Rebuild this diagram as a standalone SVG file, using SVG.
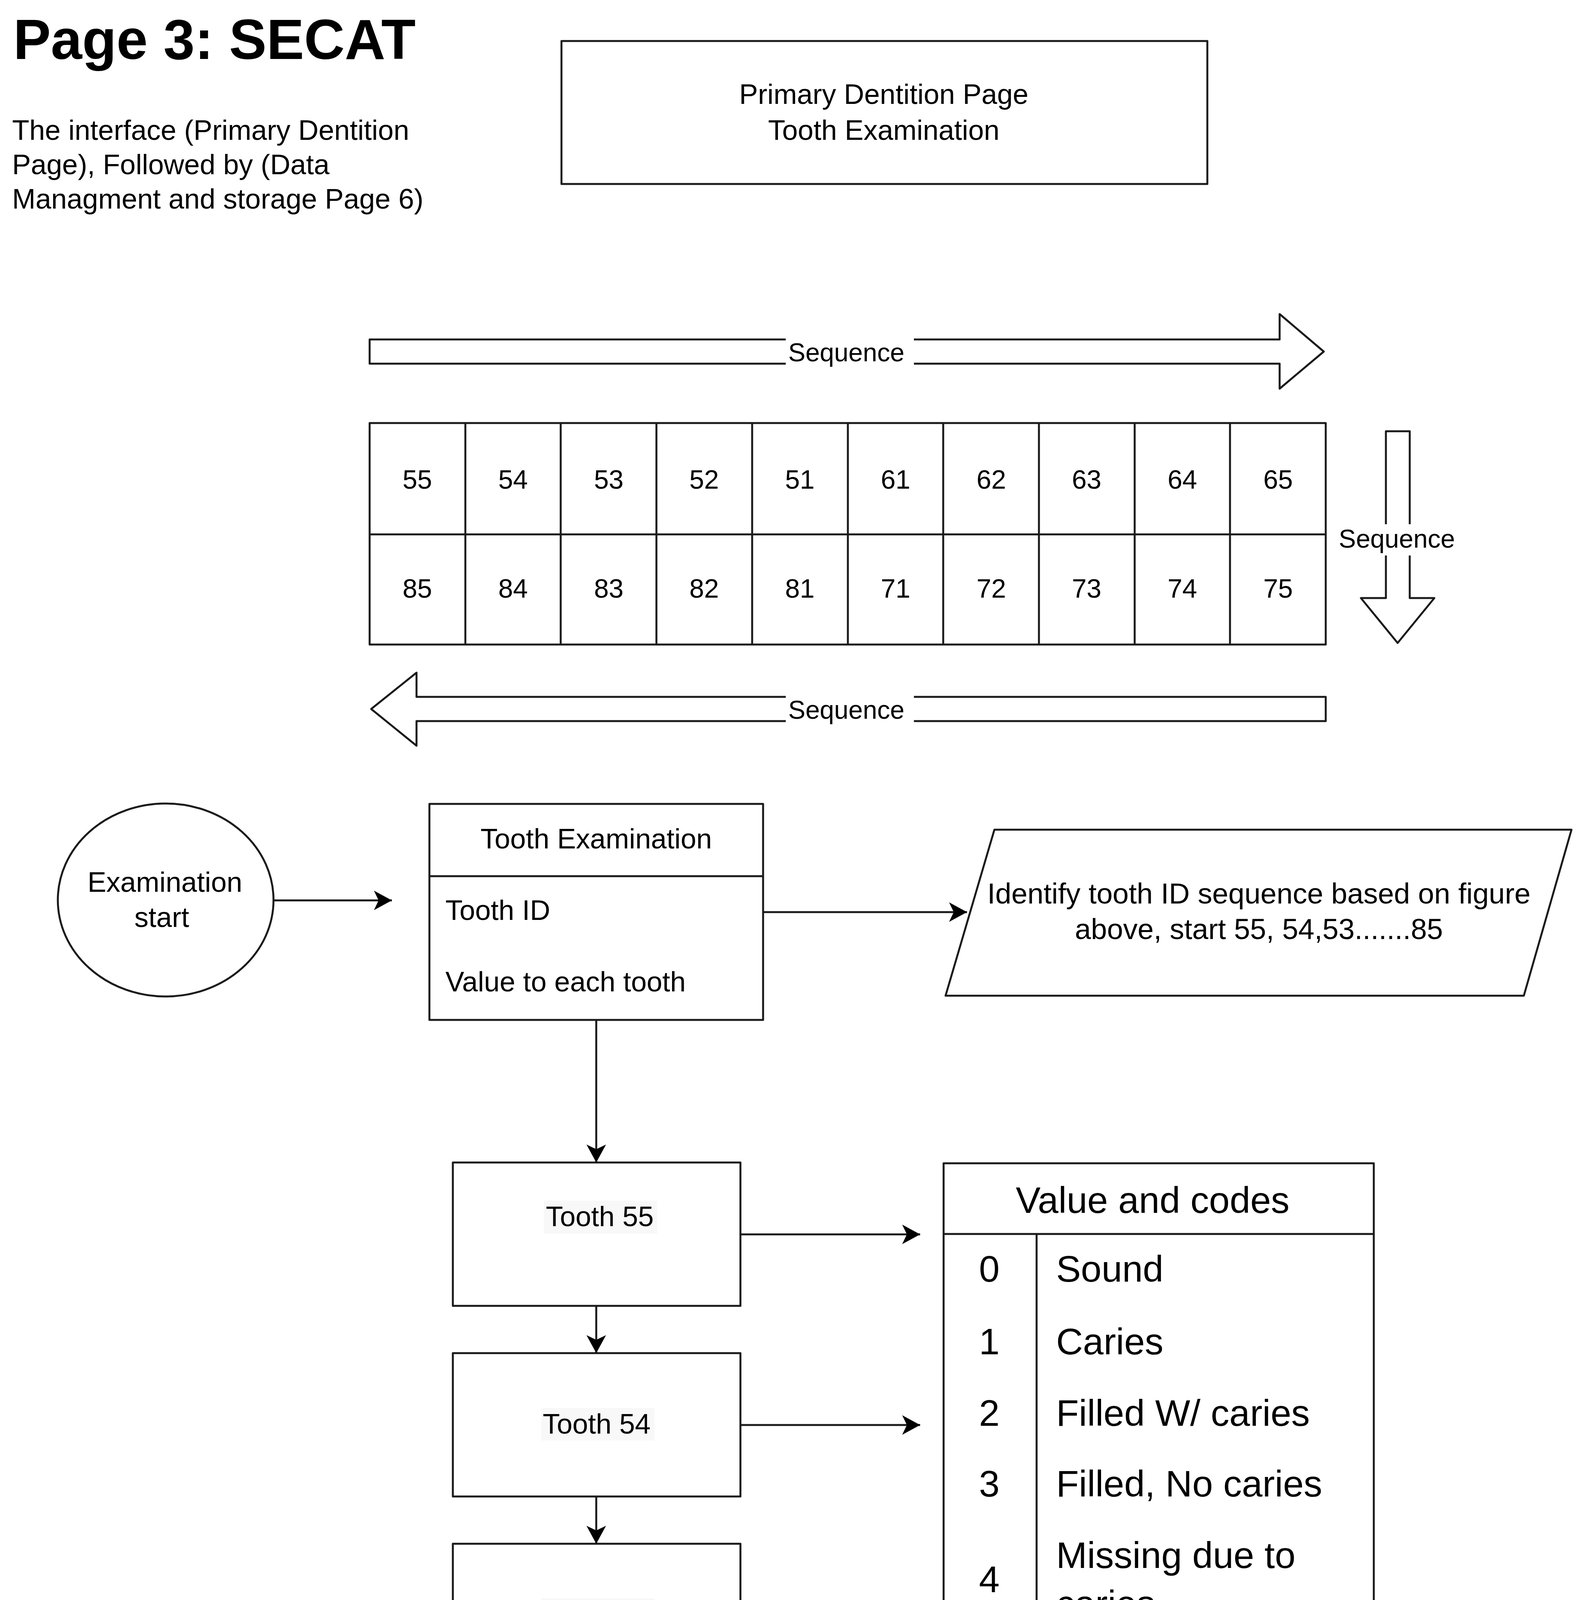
<svg xmlns="http://www.w3.org/2000/svg" width="4054" height="5883" viewBox="0 0 4054 5883">
<style>
text{font-family:"Liberation Sans",Arial,sans-serif;fill:#000}
.sh{fill:#fff;stroke:#1a1a1a;stroke-width:5;stroke-linejoin:round}
.ln{fill:none;stroke:#1a1a1a;stroke-width:5}
.t72{font-size:72px}
.t68{font-size:68px}
.t66{font-size:66px}
.t95{font-size:95px}
.c{text-anchor:middle}
.lbg{fill:#f8f8f8}
</style>
<defs>
<marker id="ah" markerUnits="userSpaceOnUse" markerWidth="60" markerHeight="60" refX="46" refY="25" orient="auto">
<path d="M0,0 L46,25 L0,50 L12,25 Z" fill="#000"/>
</marker>
</defs>
<rect width="4054" height="5883" fill="#fff"/>

<g id="title">
<text x="34" y="151" style="font-size:144px;font-weight:bold">Page 3: SECAT</text>
<text class="t72" x="31" y="358">The interface (Primary Dentition</text>
<text class="t72" x="31" y="446">Page), Followed by (Data</text>
<text class="t72" x="31" y="534">Managment and storage Page 6)</text>
</g>

<g id="header-box">
<rect class="sh" x="1437" y="105" width="1653" height="366"/>
<text class="t72 c" x="2262" y="266">Primary Dentition Page</text>
<text class="t72 c" x="2262" y="358">Tooth Examination</text>
</g>

<g id="seq-top">
<polygon class="sh" points="946,869 3275,869 3275,804 3388,900 3275,995 3275,931 946,931"/>
<rect x="2011" y="860" width="328" height="80" fill="#fff"/>
<text class="t66 c" x="2166" y="925">Sequence</text>
</g>

<g id="tooth-grid">
<rect class="sh" x="946" y="1083" width="2447" height="567"/>
<path class="ln" d="M946,1368 H3393 M1191,1083 V1650 M1435,1083 V1650 M1680,1083 V1650 M1925,1083 V1650 M2170,1083 V1650 M2414,1083 V1650 M2659,1083 V1650 M2904,1083 V1650 M3148,1083 V1650"/>
<g class="t68 c">
<text x="1068" y="1251">55</text><text x="1313" y="1251">54</text><text x="1558" y="1251">53</text><text x="1802" y="1251">52</text><text x="2047" y="1251">51</text><text x="2292" y="1251">61</text><text x="2537" y="1251">62</text><text x="2781" y="1251">63</text><text x="3026" y="1251">64</text><text x="3271" y="1251">65</text>
<text x="1068" y="1530">85</text><text x="1313" y="1530">84</text><text x="1558" y="1530">83</text><text x="1802" y="1530">82</text><text x="2047" y="1530">81</text><text x="2292" y="1530">71</text><text x="2537" y="1530">72</text><text x="2781" y="1530">73</text><text x="3026" y="1530">74</text><text x="3271" y="1530">75</text>
</g>
</g>

<g id="seq-right">
<polygon class="sh" points="3547,1104 3608,1104 3608,1531 3671,1531 3577,1646 3483,1531 3547,1531"/>
<rect x="3424" y="1342" width="304" height="80" fill="#fff"/>
<text class="t66 c" x="3575" y="1402">Sequence</text>
</g>

<g id="seq-bottom">
<polygon class="sh" points="3393,1784 1066,1784 1066,1722 950,1815 1066,1909 1066,1846 3393,1846"/>
<rect x="2011" y="1775" width="328" height="80" fill="#fff"/>
<text class="t66 c" x="2166" y="1840">Sequence</text>
</g>

<g id="exam-start">
<ellipse class="sh" cx="424" cy="2304" rx="276" ry="247"/>
<text class="t72 c" x="422" y="2283">Examination</text>
<text class="t72 c" x="414" y="2373">start</text>
</g>

<g id="tooth-exam">
<rect class="sh" x="1099" y="2058" width="854" height="553"/>
<path class="ln" d="M1099,2243 H1953"/>
<text class="t72 c" x="1526" y="2172">Tooth Examination</text>
<text class="t72" x="1140" y="2355">Tooth ID</text>
<text class="t72" x="1140" y="2538">Value to each tooth</text>
</g>

<g id="identify">
<polygon class="sh" points="2545,2124 4022,2124 3900,2549 2420,2549"/>
<text class="c" style="font-size:74px" x="3222" y="2313">Identify tooth ID sequence based on figure</text>
<text class="c" style="font-size:74px" x="3222" y="2404">above, start 55, 54,53.......85</text>
</g>

<g id="tooth55">
<rect class="sh" x="1159" y="2976" width="736" height="367"/>
<rect class="lbg" x="1392" y="3074" width="290" height="84"/>
<text class="t72 c" x="1535" y="3139">Tooth 55</text>
</g>
<g id="tooth54">
<rect class="sh" x="1159" y="3464" width="736" height="367"/>
<rect class="lbg" x="1385" y="3604" width="290" height="84"/>
<text class="t72 c" x="1527" y="3670">Tooth 54</text>
</g>
<g id="tooth53">
<rect class="sh" x="1159" y="3952" width="736" height="369"/>
<rect class="lbg" x="1385" y="4092" width="290" height="84"/>
<text class="t72 c" x="1527" y="4158">Tooth 53</text>
</g>
<g id="tooth85">
<rect class="sh" x="1159" y="4870" width="736" height="369"/>
<rect class="lbg" x="1374" y="5059" width="304" height="86"/>
<text class="t72 c" x="1530" y="5125">Tooth 85</text>
</g>

<g id="codes">
<rect class="sh" x="2415" y="2978" width="1101" height="1581"/>
<path class="ln" d="M2415,3159 H3516 M2653,3159 V4559"/>
<text class="t95 c" x="2950" y="3105">Value and codes</text>
<g class="t95">
<text class="c" x="2532" y="3281">0</text><text x="2703" y="3281">Sound</text>
<text class="c" x="2532" y="3467">1</text><text x="2703" y="3467">Caries</text>
<text class="c" x="2532" y="3650">2</text><text x="2703" y="3650">Filled W/ caries</text>
<text class="c" x="2532" y="3831">3</text><text x="2703" y="3831">Filled, No caries</text>
<text class="c" x="2532" y="4076">4</text><text x="2703" y="4014">Missing due to</text><text x="2703" y="4138">caries</text>
<text class="c" x="2532" y="4317">6</text><text x="2703" y="4317">Fissure sealant</text>
<text class="c" x="2532" y="4499">7</text><text x="2703" y="4499">Fixed prosthesis</text>
</g>
</g>

<g id="page6">
<polygon class="sh" points="1282,5597 1575,5597 1575,5489 1773,5670 1575,5851 1575,5743 1282,5743"/>
<text class="t72 c" x="1526" y="5690">Page 6</text>
</g>

<g id="connectors">
<path class="ln" d="M700,2305 H1003" marker-end="url(#ah)"/>
<path class="ln" d="M1953,2335 H2475" marker-end="url(#ah)"/>
<path class="ln" d="M1526,2611 V2976" marker-end="url(#ah)"/>
<path class="ln" d="M1526,3343 V3464" marker-end="url(#ah)"/>
<path class="ln" d="M1526,3831 V3952" marker-end="url(#ah)"/>
<path class="ln" d="M1526,4321 V4870" stroke-dasharray="24 16" marker-end="url(#ah)"/>
<path class="ln" d="M1895,3160 H2355" marker-end="url(#ah)"/>
<path class="ln" d="M1895,3648 H2355" marker-end="url(#ah)"/>
<path class="ln" d="M1895,4136 H2355" marker-end="url(#ah)"/>
<path class="ln" d="M1895,5055 H2845 V4692" marker-end="url(#ah)"/>
<path class="ln" d="M1527,5239 V5482" marker-end="url(#ah)"/>
</g>
</svg>
